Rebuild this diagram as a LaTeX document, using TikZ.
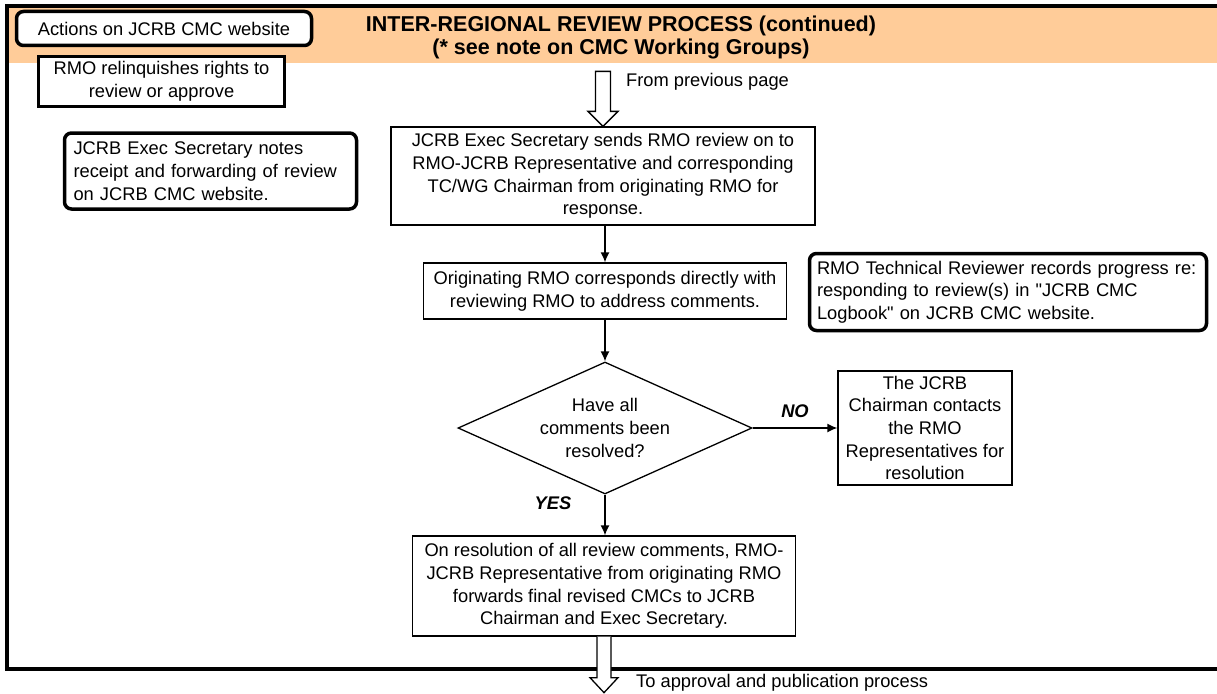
\documentclass[tikz,border=0pt]{standalone}
\usepackage{fontspec}
\setmainfont{Liberation Sans}
\usetikzlibrary{shapes.geometric,arrows.meta}
\definecolor{bandorange}{RGB}{255,204,153}
\begin{document}
\begin{tikzpicture}
[x=1pt,y=-1pt,
 every node/.style={font=\fontsize{18.3}{22.7}\selectfont,inner sep=0pt},
 box/.style={draw,line width=1.3pt,fill=white,align=center},
 webbox/.style={draw,line width=3.5pt,fill=white,rounded corners=7pt},
 flow/.style={-{Latex[length=10pt,width=9pt]},line width=1.3pt},
 hollow/.style={line width=1.3pt,fill=white,line join=miter}]
\useasboundingbox (0,0) rectangle (1217,693);
\fill[bandorange] (9,8) rectangle (1217,63);
\draw[line width=4pt,line join=miter] (1217,6) -- (7,6) -- (7,669) -- (1217,669);

\node[align=center,font=\bfseries\fontsize{21.5}{23}\selectfont] (title) at (621,37)
{INTER-REGIONAL REVIEW PROCESS (continued)\\(* see note on CMC Working Groups)};

\node[webbox,minimum width=295pt,minimum height=34pt] (web) at (164,28.5) {Actions on JCRB CMC website};
\node[draw,line width=3.5pt,fill=white,align=center,minimum width=246pt,minimum height=50pt]
(relinq) at (161.5,81.5) {RMO relinquishes rights to\\review or approve};
\node[webbox,align=left,text width=274pt,minimum width=292pt,minimum height=76pt]
(notes) at (210.5,171) {JCRB Exec Secretary notes\\receipt and forwarding of review\\on JCRB CMC website.};

\node[box,minimum width=424pt,minimum height=98pt] (sends) at (603,176)
{JCRB Exec Secretary sends RMO review on to\\RMO-JCRB Representative and corresponding\\TC/WG Chairman from originating RMO for\\response.};
\node[box,minimum width=363pt,minimum height=56pt] (corresp) at (605,291)
{Originating RMO corresponds directly with\\reviewing RMO to address comments.};
\node[webbox,align=left,text width=382pt,minimum width=397pt,minimum height=77pt]
(logbook) at (1008,292) {RMO Technical Reviewer records progress re:\\responding to review(s) in \textquotedbl JCRB CMC\\Logbook\textquotedbl{} on JCRB CMC website.};

\node[draw,diamond,aspect=2.23,minimum width=294pt,minimum height=132pt,line width=1.3pt,align=center]
(resolved) at (605,428) {Have all\\comments been\\resolved?};
\node[box,minimum width=174pt,minimum height=114pt] (contact) at (925,428)
{The JCRB\\Chairman contacts\\the RMO\\Representatives for\\resolution};
\node[box,minimum width=383pt,minimum height=100pt] (final) at (604,586)
{On resolution of all review comments, RMO-\\JCRB Representative from originating RMO\\forwards final revised CMCs to JCRB\\Chairman and Exec Secretary.};

\draw[hollow] (sends.north) -- ++(-15,-15) -- ++(7.5,0) -- ++(0,-40) -- ++(15,0)
-- ++(0,40) -- ++(7.5,0) -- cycle;
\node[anchor=west] (frompage) at (626,82) {From previous page};

\draw[flow] (sends.south -| corresp.north) -- (corresp.north);
\draw[flow] (corresp.south) -- (resolved.north);
\draw[flow] (resolved.east) -- node[above=10pt,font=\bfseries\itshape\fontsize{18.3}{22.7}\selectfont] {NO} (contact.west);
\draw[flow] (resolved.south) -- node[pos=0.2,left=33pt,font=\bfseries\itshape\fontsize{18.3}{22.7}\selectfont] {YES} (final.north -| resolved.south);

\draw[hollow] (final.south) ++(-7,0) -- ++(0,41) -- ++(-7,0) -- ++(14,15) -- ++(14,-15)
-- ++(-7,0) -- ++(0,-41);
\node[anchor=west] (topub) at (636,683) {To approval and publication process};
\end{tikzpicture}
\end{document}
